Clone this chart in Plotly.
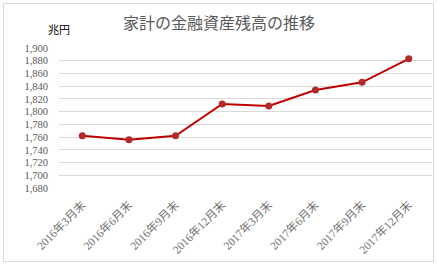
import plotly.graph_objects as go

categories = ["2016年3月末", "2016年6月末", "2016年9月末", "2016年12月末",
              "2017年3月末", "2017年6月末", "2017年9月末", "2017年12月末"]
values = [1762, 1756, 1762, 1812, 1809, 1834, 1846, 1883]

W, H = 437, 265
L, R, T, B = 59, 5, 48, 77
pw = W - L - R
ph = H - T - B

def px_x(x):
    return (x - L) / pw

def px_y(y):
    return 1 - (y - T) / ph

fig = go.Figure()
fig.add_trace(go.Scatter(
    x=categories, y=values, mode="lines+markers",
    line=dict(color="#C00000", width=2),
    marker=dict(color="#B22A2A", size=7),
    hoverinfo="x+y",
))

fig.update_layout(
    width=W, height=H,
    margin=dict(l=L, r=R, t=T, b=B),
    paper_bgcolor="white", plot_bgcolor="white",
    showlegend=False,
    font=dict(family="Liberation Serif", color="#595959", size=10),
    xaxis=dict(
        type="category", range=[-0.5, 7.5], tickangle=-45,
        showgrid=False, showline=False, zeroline=False,
        tickfont=dict(family="Liberation Serif, Noto Sans CJK JP", size=11.5, color="#707070"),
        ticks="", ticklabelstandoff=7,
    ),
    yaxis=dict(
        range=[1680, 1900], dtick=20, tickformat=",d",
        showgrid=True, gridcolor="#D9D9D9", gridwidth=1,
        zeroline=False, showline=False, ticks="",
        tickfont=dict(family="Liberation Serif", size=10.5, color="#595959"),
        ticklabelstandoff=10,
    ),
    shapes=[dict(
        type="rect", xref="paper", yref="paper",
        x0=px_x(3.5), x1=px_x(433.5), y0=px_y(261.5), y1=px_y(3.5),
        line=dict(color="#D9D9D9", width=1), fillcolor="rgba(0,0,0,0)", layer="below",
    )],
    annotations=[
        dict(text="家計の金融資産残高の推移", xref="paper", yref="paper",
             x=px_x(219), y=px_y(22), xanchor="center", yanchor="middle",
             showarrow=False,
             font=dict(family="Noto Sans CJK JP", size=16, color="#595959")),
        dict(text="兆円", xref="paper", yref="paper",
             x=px_x(46), y=px_y(29), xanchor="left", yanchor="middle",
             showarrow=False,
             font=dict(family="Noto Sans CJK JP", size=11, color="#000000")),
    ],
)

fig.write_html("out.html")
